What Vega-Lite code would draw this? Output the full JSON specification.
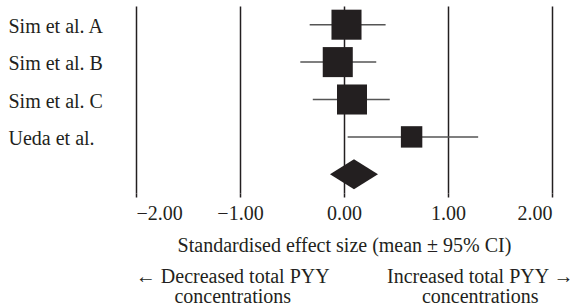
{
  "$schema": "https://vega.github.io/schema/vega-lite/v6.json",
  "background": "white",
  "padding": {"left": 8, "top": 6, "right": 0, "bottom": 0},
  "spacing": 12,
  "config": {
    "view": {"stroke": null},
    "font": "Liberation Serif",
    "axis": {"labelFont": "Liberation Serif", "titleFont": "Liberation Serif", "labelFontSize": 20, "titleFontSize": 20, "labelColor": "#231f20", "titleColor": "#231f20"},
    "text": {"font": "Liberation Serif", "color": "#231f20"}
  },
  "vconcat": [
    {
      "width": 416,
      "height": 187,
      "data": {
        "values": [
          {"study": "Sim et al. A", "effect": 0.024, "lower": -0.33, "upper": 0.40, "weight": 28.5, "kind": "study"},
          {"study": "Sim et al. B", "effect": -0.06, "lower": -0.42, "upper": 0.31, "weight": 28.5, "kind": "study"},
          {"study": "Sim et al. C", "effect": 0.077, "lower": -0.30, "upper": 0.44, "weight": 28.5, "kind": "study"},
          {"study": "Ueda et al.", "effect": 0.65, "lower": 0.035, "upper": 1.29, "weight": 14.5, "kind": "study"},
          {"study": "Overall", "effect": 0.096, "lower": -0.135, "upper": 0.33, "weight": 100, "kind": "pooled"}
        ]
      },
      "encoding": {
        "y": {
          "field": "study",
          "type": "nominal",
          "sort": null,
          "scale": {"domain": ["Sim et al. A", "Sim et al. B", "Sim et al. C", "Ueda et al.", "Overall"], "paddingInner": 0, "paddingOuter": 0},
          "axis": {
            "title": null,
            "domain": false,
            "ticks": false,
            "tickSize": 0,
            "grid": false,
            "labelAlign": "left",
            "labelBaseline": "middle",
            "labelOffset": 2,
            "labelPadding": 128,
            "labelFont": "Liberation Serif",
            "labelFontSize": 20,
            "labelFontWeight": "normal",
            "labelColor": "#231f20",
            "labelExpr": "datum.value === 'Overall' ? '' : datum.value"
          }
        }
      },
      "layer": [
        {
          "transform": [{"filter": "datum.kind === 'study'"}],
          "mark": {"type": "rule", "color": "#555555", "strokeWidth": 1.5},
          "encoding": {
            "x": {
              "field": "lower",
              "type": "quantitative",
              "scale": {"domain": [-2, 2], "nice": false, "zero": false},
              "axis": {
                "values": [-2, -1, 0, 1, 2],
                "format": ".2f",
                "grid": true,
                "gridColor": "#231f20",
                "gridOpacity": 1,
                "gridWidth": 1.5,
                "domain": false,
                "ticks": true,
                "tickSize": 4,
                "tickColor": "#231f20",
                "tickWidth": 1.5,
                "labelPadding": 6,
                "labelFont": "Liberation Serif",
                "labelFontSize": 20,
                "labelColor": "#231f20",
                "title": "Standardised effect size (mean ± 95% CI)",
                "titleFont": "Liberation Serif",
                "titleFontSize": 20,
                "titleFontWeight": "normal",
                "titleColor": "#231f20",
                "titlePadding": 12
              }
            },
            "x2": {"field": "upper"}
          }
        },
        {
          "transform": [{"filter": "datum.kind === 'study'"}],
          "mark": {"type": "square", "filled": true, "color": "#231f20", "opacity": 1},
          "encoding": {
            "x": {"field": "effect", "type": "quantitative"},
            "size": {"field": "weight", "type": "quantitative", "scale": {"type": "linear", "domain": [0, 30], "range": [0, 950]}, "legend": null}
          }
        },
        {
          "transform": [{"filter": "datum.kind === 'pooled'"}],
          "mark": {"type": "point", "shape": "M-1,0L0,-0.625L1,0L0,0.625Z", "size": 2304, "filled": true, "color": "#231f20", "opacity": 1},
          "encoding": {
            "x": {"field": "effect", "type": "quantitative"}
          }
        }
      ]
    },
    {
      "width": 416,
      "height": 20,
      "layer": [
        {
          "data": {"values": [{"label": "← Decreased total PYY\nconcentrations"}]},
          "mark": {"type": "text", "lineBreak": "\n", "align": "center", "baseline": "middle", "fontSize": 20, "lineHeight": 20, "font": "Liberation Serif", "color": "#231f20"},
          "encoding": {
            "x": {"datum": -1.07, "type": "quantitative", "scale": {"domain": [-2, 2], "nice": false, "zero": false}, "axis": null},
            "text": {"field": "label", "type": "nominal"}
          }
        },
        {
          "data": {"values": [{"label": "Increased total PYY →\nconcentrations"}]},
          "mark": {"type": "text", "lineBreak": "\n", "align": "center", "baseline": "middle", "fontSize": 20, "lineHeight": 20, "font": "Liberation Serif", "color": "#231f20"},
          "encoding": {
            "x": {"datum": 1.31, "type": "quantitative"},
            "text": {"field": "label", "type": "nominal"}
          }
        }
      ]
    }
  ]
}
